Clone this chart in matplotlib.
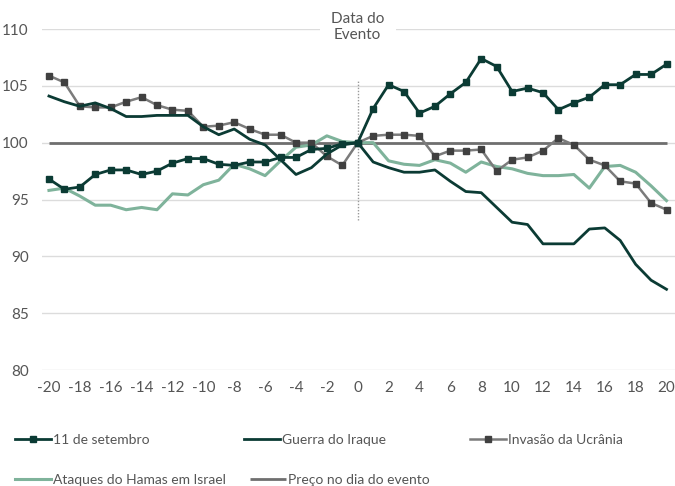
import matplotlib
matplotlib.use("Agg")
import matplotlib.pyplot as plt
import numpy as np

plt.rcParams['font.family'] = ['Lato', 'DejaVu Sans']
plt.rcParams['axes.unicode_minus'] = False

days = list(range(-20, 21))

setembro_11 = [96.8, 95.9, 96.1, 97.2, 97.6, 97.6, 97.2, 97.5, 98.2, 98.6,
               98.6, 98.1, 98.0, 98.3, 98.3, 98.7, 98.7, 99.4, 99.5, 99.9,
               100.0, 103.0, 105.1, 104.5, 102.6, 103.2, 104.3, 105.3, 107.4, 106.7,
               104.5, 104.8, 104.4, 102.9, 103.5, 104.0, 105.1, 105.1, 106.0, 106.0,
               106.9]
guerra_iraque = [104.1, 103.6, 103.2, 103.5, 103.0, 102.3, 102.3, 102.4, 102.4, 102.4,
                 101.4, 100.7, 101.2, 100.3, 99.8, 98.5, 97.2, 97.8, 99.0, 99.8,
                 100.0, 98.3, 97.8, 97.4, 97.4, 97.6, 96.6, 95.7, 95.6, 94.3,
                 93.0, 92.8, 91.1, 91.1, 91.1, 92.4, 92.5, 91.4, 89.3, 87.9,
                 87.1]
invasao_ucrania = [105.9, 105.3, 103.2, 103.1, 103.1, 103.6, 104.0, 103.3, 102.9, 102.8,
                   101.4, 101.5, 101.8, 101.2, 100.7, 100.7, 100.0, 100.0, 98.8, 98.0,
                   100.0, 100.6, 100.7, 100.7, 100.6, 98.8, 99.3, 99.3, 99.4, 97.5,
                   98.5, 98.7, 99.3, 100.4, 99.8, 98.5, 98.0, 96.6, 96.4, 94.7,
                   94.1]
ataques_hamas = [95.8, 96.0, 95.3, 94.5, 94.5, 94.1, 94.3, 94.1, 95.5, 95.4,
                 96.3, 96.7, 98.1, 97.7, 97.1, 98.4, 99.6, 99.8, 100.6, 100.1,
                 100.0, 100.0, 98.4, 98.1, 98.0, 98.5, 98.2, 97.4, 98.3, 97.9,
                 97.7, 97.3, 97.1, 97.1, 97.2, 96.0, 97.9, 98.0, 97.4, 96.2,
                 94.9]
preco_evento = [100.0] * 41

event_line_y = [93.2, 105.5]
event_label = "Data do\nEvento"

labels = ["11 de setembro", "Guerra do Iraque", "Invasão da Ucrânia",
          "Ataques do Hamas em Israel", "Preço no dia do evento"]

dark_green = "#0b3b34"
light_green = "#7fb39b"
gray_line = "#7b7b7b"
gray_marker = "#404040"
base_gray = "#6f6f6f"
text_col = "#555555"

fig = plt.figure(figsize=(6.75, 4.86), dpi=100)
ax = fig.add_axes([42/675, 116/486, 633/675, 341/486])

l5, = ax.plot(days, preco_evento, color=base_gray, lw=2.0, zorder=2, solid_capstyle='butt')
l4, = ax.plot(days, ataques_hamas, color=light_green, lw=2.2, zorder=3)
l3, = ax.plot(days, invasao_ucrania, color=gray_line, lw=1.8, marker='s', ms=4.5,
              mfc=gray_marker, mec=gray_marker, zorder=4)
l2, = ax.plot(days, guerra_iraque, color=dark_green, lw=2.0, zorder=5)
l1, = ax.plot(days, setembro_11, color=dark_green, lw=2.0, marker='s', ms=4.8,
              mfc=dark_green, mec=dark_green, zorder=6)

ax.plot([0, 0], event_line_y, color="#9a9a9a", lw=1.0, ls=(0, (1, 1.2)), zorder=1)

ax.text(0, 110.2, event_label, ha='center', va='center', fontsize=11,
        color=text_col, linespacing=1.2, zorder=7,
        bbox=dict(facecolor='white', edgecolor='none', pad=8))

ax.set_xlim(-20.45, 20.55)
ax.set_ylim(80, 110)
ax.set_yticks(np.arange(80, 111, 5))
ax.set_xticks(np.arange(-20, 21, 2))
ax.grid(axis='y', color='#dcdcdc', lw=1.0, zorder=0)
ax.set_axisbelow(True)
for s in ax.spines.values():
    s.set_visible(False)
ax.tick_params(axis='both', length=0, labelsize=11, labelcolor=text_col)
ax.tick_params(axis='y', pad=9.5)
ax.tick_params(axis='x', pad=8)

handles = [l1, l2, l3, l4, l5]
positions = [(15, 440), (244, 440), (470, 440), (15, 480), (250, 480)]
for h, lab, (px, py) in zip(handles, labels, positions):
    fig.legend([h], [lab], loc='center left', numpoints=1,
               bbox_to_anchor=(px/675, 1 - py/486), frameon=False,
               handlelength=2.6, handletextpad=0.15, borderpad=0, borderaxespad=0,
               fontsize=10, labelcolor=text_col)

fig.savefig("out.png", dpi=100)
